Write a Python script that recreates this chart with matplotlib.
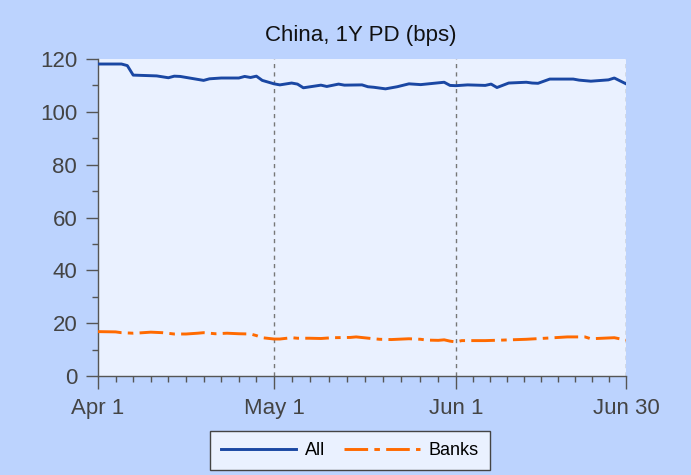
import matplotlib
matplotlib.use("Agg")
import matplotlib.dates as mdates
import matplotlib.pyplot as plt
import numpy as np
import pandas as pd

# "All" series, 1Y PD in bps
all_dates = [
    "2020-04-01", "2020-04-05", "2020-04-06", "2020-04-07", "2020-04-11",
    "2020-04-13", "2020-04-14", "2020-04-15", "2020-04-19", "2020-04-20",
    "2020-04-22", "2020-04-25", "2020-04-26", "2020-04-27", "2020-04-28",
    "2020-04-29", "2020-05-01", "2020-05-02", "2020-05-04", "2020-05-05",
    "2020-05-06", "2020-05-09", "2020-05-10", "2020-05-12", "2020-05-13",
    "2020-05-16", "2020-05-17", "2020-05-18", "2020-05-20", "2020-05-22",
    "2020-05-24", "2020-05-26", "2020-05-30", "2020-05-31", "2020-06-01",
    "2020-06-03", "2020-06-06", "2020-06-07", "2020-06-08", "2020-06-10",
    "2020-06-13", "2020-06-14", "2020-06-15", "2020-06-17", "2020-06-21",
    "2020-06-22", "2020-06-24", "2020-06-27", "2020-06-28", "2020-06-29",
    "2020-06-30",
]
all_values = [
    118.1, 118.1, 117.5, 113.9, 113.6,
    112.9, 113.5, 113.4, 111.9, 112.5,
    112.8, 112.8, 113.4, 113.0, 113.5,
    111.9, 110.6, 110.2, 110.9, 110.5,
    109.1, 110.1, 109.6, 110.5, 110.1,
    110.2, 109.5, 109.3, 108.7, 109.5,
    110.6, 110.3, 111.2, 110.0, 109.9,
    110.2, 110.0, 110.5, 109.2, 110.9,
    111.2, 110.9, 110.8, 112.4, 112.4,
    112.0, 111.6, 112.1, 112.8, 111.7,
    110.6,
]

# "Banks" series
bank_dates = [
    "2020-04-01", "2020-04-04", "2020-04-05", "2020-04-07", "2020-04-08",
    "2020-04-10", "2020-04-12", "2020-04-14", "2020-04-16", "2020-04-18",
    "2020-04-19", "2020-04-21", "2020-04-23", "2020-04-25", "2020-04-27",
    "2020-04-28", "2020-04-29", "2020-05-01", "2020-05-02", "2020-05-04",
    "2020-05-05", "2020-05-07", "2020-05-09", "2020-05-11", "2020-05-14",
    "2020-05-15", "2020-05-18", "2020-05-19", "2020-05-21", "2020-05-24",
    "2020-05-26", "2020-05-27", "2020-05-29", "2020-05-30", "2020-05-31",
    "2020-06-01", "2020-06-02", "2020-06-06", "2020-06-09", "2020-06-13",
    "2020-06-17", "2020-06-20", "2020-06-23", "2020-06-24", "2020-06-27",
    "2020-06-28", "2020-06-30",
]
bank_values = [
    16.8, 16.7, 16.4, 16.2, 16.3,
    16.6, 16.4, 15.9, 15.9, 16.2,
    16.4, 16.0, 16.2, 16.0, 15.9,
    15.3, 14.5, 14.0, 14.0, 14.5,
    14.3, 14.3, 14.2, 14.5, 14.6,
    14.8, 14.1, 13.9, 13.8, 14.1,
    13.9, 13.6, 13.5, 13.7, 13.2,
    12.9, 13.4, 13.4, 13.6, 13.9,
    14.4, 14.8, 14.8, 14.1, 14.4,
    14.5, 13.6,
]

tick_dates = ["2020-04-01", "2020-05-01", "2020-06-01", "2020-06-30"]
tick_labels = ["Apr 1", "May 1", "Jun 1", "Jun 30"]
y_ticks = [0, 20, 40, 60, 80, 100, 120]

FIG_BG = "#bcd3fe"
PLOT_BG = "#eaf1ff"
AXIS_GRAY = "#555555"
TEXT_GRAY = "#444444"

plt.rcParams["font.family"] = ["Liberation Sans", "DejaVu Sans"]
plt.rcParams["lines.scale_dashes"] = False

fig = plt.figure(figsize=(6.91, 4.75), dpi=100, facecolor=FIG_BG)
ax = fig.add_axes([0.1418, 0.2084, 0.906 - 0.1418, 0.8758 - 0.2084])
ax.set_facecolor(PLOT_BG)

x_all = mdates.date2num(pd.to_datetime(all_dates))
x_bank = mdates.date2num(pd.to_datetime(bank_dates))
x_ticks = mdates.date2num(pd.to_datetime(tick_dates))

for xv in x_ticks[1:]:
    ax.axvline(xv, color="#777777", linestyle=(0, (3, 3)), linewidth=1.0, zorder=1)

ax.plot(x_all, all_values, color="#1a47a3", linewidth=2.1, label="All", zorder=3)
ax.plot(
    x_bank,
    bank_values,
    color="#ff6a00",
    linewidth=2.1,
    linestyle=(0, (17, 4.5, 4, 4.5)),
    label="Banks",
    zorder=3,
)

ax.set_xlim(x_ticks[0], x_ticks[-1])
ax.set_ylim(0, 120)

ax.set_xticks(x_ticks)
ax.set_xticklabels(tick_labels)
minor_x = []
for a, b in zip(x_ticks[:-1], x_ticks[1:]):
    minor_x.extend(np.linspace(a, b, 11)[1:-1])
ax.set_xticks(minor_x, minor=True)
ax.set_yticks(y_ticks)
ax.set_yticks([10, 30, 50, 70, 90, 110], minor=True)

for side in ("top", "right"):
    ax.spines[side].set_visible(False)
for side in ("left", "bottom"):
    ax.spines[side].set_color(AXIS_GRAY)
    ax.spines[side].set_linewidth(1.0)

ax.tick_params(which="major", length=9, width=1.0, color=AXIS_GRAY,
               labelsize=16, labelcolor=TEXT_GRAY, pad=6)
ax.tick_params(axis="x", which="major", pad=7)
ax.tick_params(which="minor", length=4.5, width=1.0, color=AXIS_GRAY)

fig.text(0.522, 0.926, "China, 1Y PD (bps)", ha="center", va="center",
         fontsize=16, color="#111111")

leg = fig.legend(
    loc="lower center",
    bbox_to_anchor=(0.506, 0.0105),
    borderaxespad=0,
    ncol=2,
    frameon=True,
    fancybox=False,
    fontsize=13,
    handlelength=4.2,
    handletextpad=0.5,
    columnspacing=1.0,
    borderpad=0.6,
)
leg.get_frame().set_facecolor(PLOT_BG)
leg.get_frame().set_edgecolor("#444444")
leg.get_frame().set_linewidth(1.0)
leg.get_frame().set_alpha(1.0)

fig.savefig("out.png", dpi=100, facecolor=FIG_BG)
